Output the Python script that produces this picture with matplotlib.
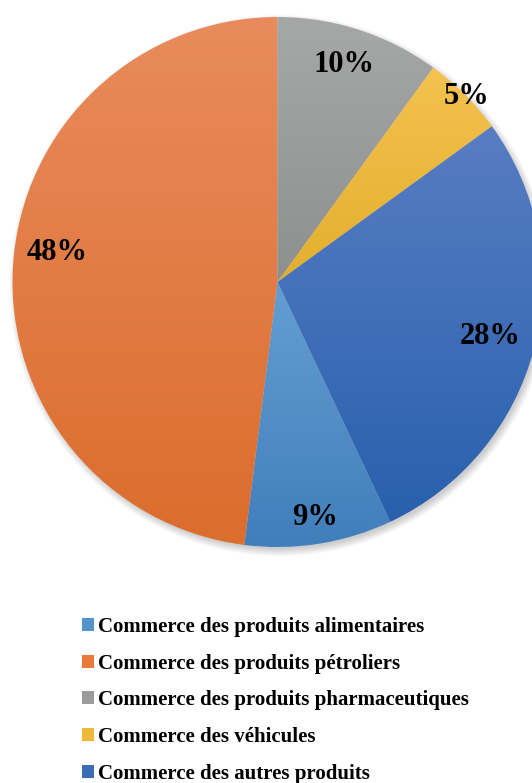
import numpy as np
import matplotlib
matplotlib.use("Agg")
import matplotlib.pyplot as plt
from matplotlib.patches import Patch
from matplotlib.colors import to_rgb

# Data (legend order)
categories = [
    "Commerce des produits alimentaires",
    "Commerce des produits pétroliers",
    "Commerce des produits pharmaceutiques",
    "Commerce des véhicules",
    "Commerce des autres produits",
]
shares = [9, 48, 10, 5, 28]
pct_labels = ["9%", "48%", "10%", "5%", "28%"]

# Gradient colours per slice: (top, bottom)
top_colors = ["#649ED3", "#E98B5C", "#A6A7A7", "#F4C250", "#587DC3"]
bottom_colors = ["#417EBA", "#DB6D2D", "#8E8F8F", "#E2AF2C", "#2860AD"]
legend_colors = ["#5494CC", "#E97A3B", "#9B9B9B", "#EDB936", "#3A6CB8"]

W, H = 532, 783
fig = plt.figure(figsize=(W / 100, H / 100), dpi=100)
ax = fig.add_axes([0, 0, 1, 1])
ax.set_xlim(0, W)
ax.set_ylim(0, H)
ax.set_aspect("equal")
ax.axis("off")

cx, cy, R = 277.5, H - 282, 265

# Soft shadow behind the pie
yy, xx = np.mgrid[0:H, 0:W]
dist = np.hypot(xx - (cx + 2), (H - yy) - (cy - 3))
alpha = np.clip((R + 6 - dist) / 8.0, 0, 1) * 0.35
shadow = np.zeros((H, W, 4))
shadow[..., :3] = 0.45
shadow[..., 3] = alpha
ax.imshow(shadow, extent=(0, W, 0, H), origin="upper", zorder=0.5, interpolation="bilinear")

# Start so that the pharmaceutical slice begins at 12 o'clock going clockwise
before = sum(shares[2:])
start = 90 - (before / sum(shares)) * 360 + 360

wedges, _ = ax.pie(
    shares,
    center=(cx, cy),
    radius=R,
    startangle=start,
    counterclock=False,
    colors=legend_colors,
    wedgeprops=dict(linewidth=0),
    frame=True,
)
ax.set_xlim(0, W)
ax.set_ylim(0, H)
ax.axis("off")

# Vertical gradient fill clipped to each wedge
for w, ctop, cbot in zip(wedges, top_colors, bottom_colors):
    verts = w.get_path().vertices
    x0, x1 = verts[:, 0].min(), verts[:, 0].max()
    y0, y1 = verts[:, 1].min(), verts[:, 1].max()
    t = np.linspace(0, 1, 256)[:, None]
    c0, c1 = np.array(to_rgb(ctop)), np.array(to_rgb(cbot))
    grad = (c0[None, :] * (1 - t) + c1[None, :] * t)[:, None, :]
    grad = np.repeat(grad, 2, axis=1)
    im = ax.imshow(grad, extent=(x0, x1, y0, y1), origin="upper",
                   aspect="auto", zorder=2, interpolation="bilinear")
    im.set_clip_path(w)
    w.set_facecolor("none")

ax.set_xlim(0, W)
ax.set_ylim(0, H)

# Percentage labels: radius fraction and angular shift from each slice's bisector
label_r = [0.90, 0.84, 0.86, 1.0, 0.83]
label_shift = [0.0, -4.0, 1.0, -0.5, 0.0]
theta = start
total = sum(shares)
for s, lab, rf, sh in zip(shares, pct_labels, label_r, label_shift):
    mid = np.deg2rad(theta - s / total * 360 / 2 + sh)
    theta -= s / total * 360
    ax.text(cx + rf * R * np.cos(mid), cy + rf * R * np.sin(mid), lab,
            ha="center", va="center", fontsize=22, fontweight="bold",
            family="Liberation Serif", color="black", zorder=5)

handles = [Patch(facecolor=c, edgecolor="none") for c in legend_colors]
fig.legend(handles, categories, loc="upper left", bbox_to_anchor=(82 / W, 1 - 617 / H),
           frameon=False, prop=dict(family="Liberation Serif", weight="bold", size=15),
           handlelength=0.58, handleheight=0.58, handletextpad=0.2, labelspacing=0.8,
           borderpad=0, borderaxespad=0)

fig.savefig("out.png", dpi=100)
